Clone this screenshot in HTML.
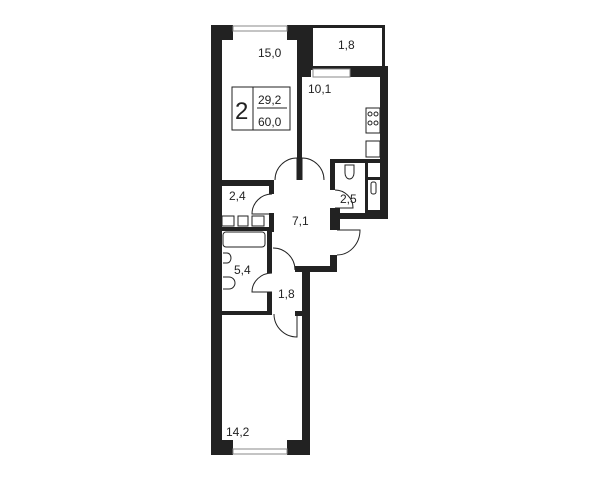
<!DOCTYPE html>
<html><head><style>body{margin:0;background:#fff}svg{display:block}text{font-family:"Liberation Sans",sans-serif;fill:#222}</style></head>
<body>
<svg width="600" height="480" viewBox="0 0 600 480">
<g fill="#222">
<rect x="211" y="25" width="11" height="430"/>
<rect x="211" y="25" width="22" height="15"/>
<rect x="287" y="25" width="24" height="15"/>
<rect x="297" y="25" width="14" height="52"/>
<rect x="297" y="77" width="5" height="103"/>
<rect x="311" y="25" width="73" height="3"/>
<rect x="311" y="25" width="2" height="45"/>
<rect x="382" y="25" width="3" height="45"/>
<rect x="311" y="66" width="74" height="3"/>
<rect x="350" y="66" width="38" height="11"/>
<rect x="297" y="68" width="14" height="9"/>
<rect x="380" y="68" width="8" height="150"/>
<rect x="330" y="159" width="55" height="4"/>
<rect x="330" y="159" width="5" height="31"/>
<rect x="330" y="208" width="10" height="22"/>
<rect x="335" y="213" width="53" height="6"/>
<rect x="365" y="163" width="3" height="50"/>
<rect x="365" y="177" width="15" height="3"/>
<rect x="365" y="210" width="15" height="3"/>
<rect x="330" y="255" width="7" height="17"/>
<rect x="295" y="266" width="42" height="6"/>
<rect x="302" y="266" width="8" height="189"/>
<rect x="211" y="440" width="22" height="15"/>
<rect x="287" y="440" width="23" height="15"/>
<rect x="222" y="180" width="52" height="6"/>
<rect x="269" y="180" width="5" height="14"/>
<rect x="269" y="213" width="5" height="19"/>
<rect x="222" y="227" width="52" height="4"/>
<rect x="267" y="230" width="5" height="43"/>
<rect x="267" y="292" width="5" height="22"/>
<rect x="222" y="311" width="50" height="4"/>
<rect x="295" y="311" width="10" height="5"/>
</g>
<g fill="none" stroke="#222" stroke-width="1">
<g stroke="#888"><rect x="233" y="26" width="54" height="5"/>
<rect x="233" y="449" width="54" height="5"/>
<rect x="313" y="69" width="37" height="8"/></g>
<rect x="232" y="87" width="58" height="43"/>
<line x1="253" y1="87" x2="253" y2="130"/>
<line x1="257" y1="108" x2="287" y2="108"/>
<rect x="366" y="108" width="14" height="25"/>
<circle cx="370" cy="114" r="2"/><circle cx="376" cy="114" r="2"/>
<circle cx="370" cy="123" r="2"/><circle cx="376" cy="123" r="2"/>
<rect x="366" y="141" width="14" height="16"/>
<path d="M345 165 h9 v8 a4.5 6 0 0 1 -9 0 z"/>
<rect x="371" y="182" width="5" height="12" rx="2"/>
<rect x="222" y="216" width="12" height="10"/>
<rect x="238" y="216" width="10" height="10"/>
<rect x="252" y="216" width="12" height="10"/>
<rect x="223" y="232" width="42" height="15" rx="3"/>
<path d="M223 253 h4 a4 5 0 0 1 0 10 h-4"/>
<path d="M223 277 h6 a6 6 0 0 1 0 12 h-6"/>
<path d="M275 180 A22 22 0 0 1 297 158 V180"/>
<path d="M324 180 A22 22 0 0 0 302 158 V180"/>
<path d="M272 194 A20 20 0 0 0 252 214 H272"/>
<path d="M335 190 A18 18 0 0 1 353 208 H335"/>
<path d="M337 230 H360 A23 25 0 0 1 337 255"/>
<path d="M272 273 A20 19 0 0 0 252 292 H272"/>
<path d="M273 248 A22 22 0 0 1 295 270"/>
<path d="M274 314 A23 23 0 0 0 297 337 V314"/>
</g>
<g font-size="12">
<text x="258" y="57">15,0</text>
<text x="338" y="49">1,8</text>
<text x="308" y="93">10,1</text>
<text x="229" y="200">2,4</text>
<text x="292" y="225">7,1</text>
<text x="340" y="203">2,5</text>
<text x="234" y="274">5,4</text>
<text x="278" y="298">1,8</text>
<text x="226" y="436">14,2</text>
<text x="258" y="104">29,2</text>
<text x="258" y="126">60,0</text>
</g>
<text x="235" y="119" font-size="24">2</text>
</svg>
</body></html>
